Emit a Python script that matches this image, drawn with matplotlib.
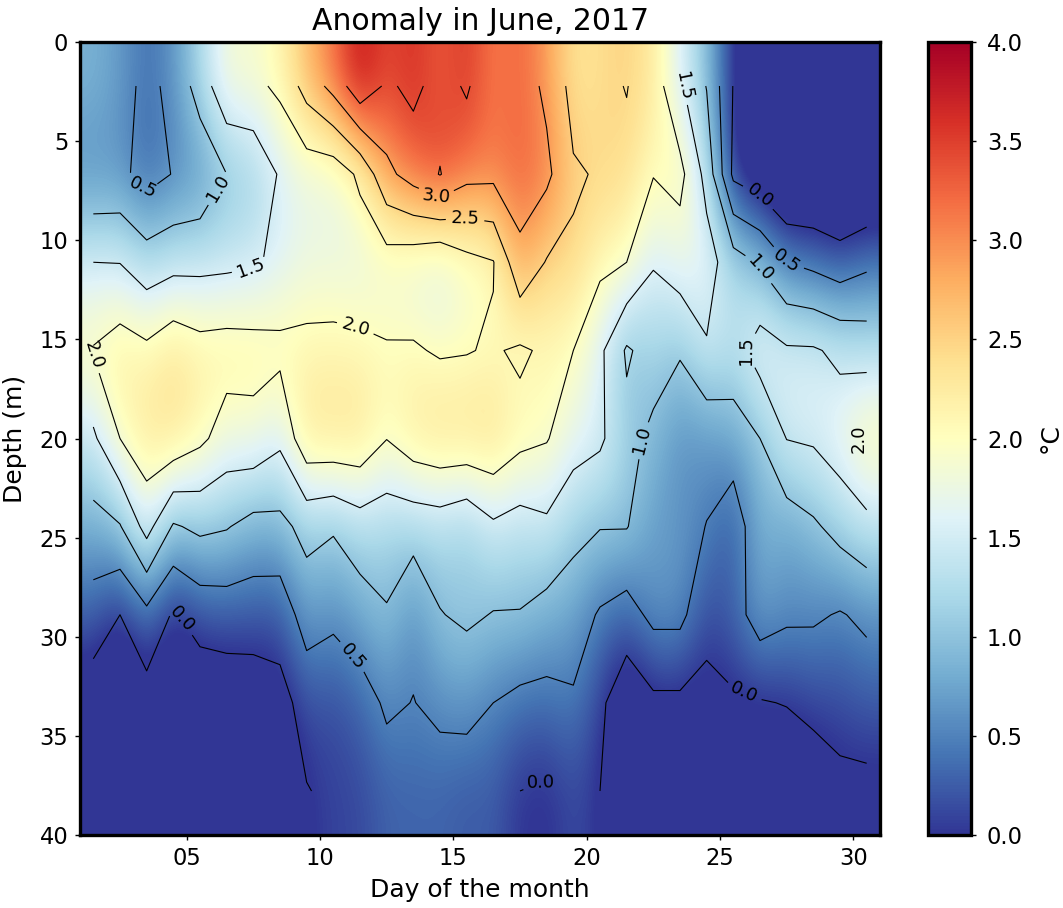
# -*- coding: utf-8 -*-
from matplotlib import pyplot as plt
import numpy as np

days = [d + 0.5 for d in range(1, 31)]
depths = [2.22, 6.67, 11.11, 15.56, 20.0, 24.44, 28.89, 33.33, 37.78]

r0 = [.85, .68, .38, .62, 1.22, 1.87, 1.88, 2.1, 2.69, 3.16, 3.85, 3.42, 3.62, 3.3, 3.56,
      3.1, 3.25, 2.9, 2.34, 2.4, 2.515, 2.26, 1.58, .98, -.02, -.5, -.6, -.7, -.8, -.7]
r1 = [.59, .615, .32, .52, .62, 1.0, 1.13, 1.55, 1.72, 1.71, 2.09, 2.88, 3.2, 3.52, 3.15,
      3.12, 3.25, 3.11, 2.55, 2.46, 2.4, 2.02, 2.14, 1.34, -.1, -.3, -.65, -.6, -.7, -.6]
r2 = [1.5, 1.49, 1.23, 1.35, 1.37, 1.4, 1.45, 1.59, 1.75, 1.75, 1.71, 1.78, 1.7, 1.55, 1.85,
      1.98, 2.87, 2.47, 2.44, 2.11, 2.0, 1.53, 1.75, 1.7, 1.22, .95, .5, .38, .23, .4]
r3 = [2.03, 2.22, 2.1, 2.33, 2.17, 2.2, 2.17, 2.12, 2.11, 2.12, 2.1, 2.03, 2.04, 1.96, 1.98,
      2.04, 1.94, 2.07, 2.0, 1.6, .94, 1.2, 1.05, 1.46, 1.3, 1.72, 1.56, 1.55, 1.4, 1.3]
r4 = [1.42, 2.0, 2.3, 2.35, 2.1, 1.79, 1.84, 1.6, 2.33, 2.35, 2.35, 2.01, 2.28, 2.38, 2.38,
      2.4, 2.13, 2.03, 1.7, 1.58, 1.14, .9, .6, .64, .76, 1.0, 1.51, 1.56, 1.77, 2.1]
r5 = [.82, .97, 1.68, .95, 1.1, 1.03, .84, .87, 1.15, 1.05, 1.27, 1.19, 1.2, 1.25, 1.1,
      1.42, 1.3, 1.41, 1.14, 1.02, 1.02, .7, .65, .49, .22, .85, .75, .93, 1.16, 1.36]
r6 = [.29, 0, .37, -.05, .2, .25, .24, .21, .72, .6, .77, .97, .6, .98, 1.08,
      .98, .98, .83, .74, .45, .3, .62, .62, .14, .3, .72, .58, .56, .47, .59]
r7 = [-.29, -.55, -.21, -.4, -.35, -.32, -.29, -.16, .18, .15, .29, .57, .49, .6, .65,
      .5, .38, .36, .44, .1, -.35, -.1, -.1, -.13, -.06, -.03, .02, .13, .15, .24]
r8 = [-.6, -.8, -.5, -.7, -.6, -.6, -.55, -.45, -.02, .09, .12, .28, .3, .3, .23,
      .25, 0, -.05, .15, 0, -.5, -.4, -.4, -.4, -.4, -.3, -.4, -.29, -.1, -.11]

levels = [0, .5, 1, 1.5, 2, 2.5, 3, 3.5]
# where the contour labels sit, pixels of the reference turned into day / depth below
label_px = [(145, 185), (224, 192), (252, 275), (358, 317), (94, 352), (437, 195), (465, 215),
            (686, 83), (760, 195), (782, 265), (760, 268), (739, 352), (640, 440), (852, 440),
            (188, 615), (360, 650), (745, 690), (541, 782)]

W, H = 1063, 908
anom = np.array([r0, r1, r2, r3, r4, r5, r6, r7, r8])

fig = plt.figure(figsize=(W / 100, H / 100), dpi=100)
ax = fig.add_axes([80 / W, 1 - 835 / H, 800 / W, 793 / H])
im = ax.imshow(anom, cmap='RdYlBu_r', vmin=0, vmax=4, extent=(1, 31, 40, 0),
               aspect='auto', interpolation='bicubic')
cs = ax.contour(days, depths, anom, levels=levels, colors='k', linewidths=0.8)
spots = [(1 + (x - 80) / 26.67, (y - 42) / 19.825) for x, y in label_px]
ax.clabel(cs, fmt='%.1f', fontsize=13, manual=spots)

ax.set_xlim(1, 31)
ax.set_ylim(40, 0)
ax.set_xticks([5, 10, 15, 20, 25, 30])
ax.set_xticklabels(['05', '10', '15', '20', '25', '30'])
ax.set_yticks(range(0, 41, 5))
ax.tick_params(labelsize=16.3, width=1, length=3.5, pad=5)
ax.set_title('Anomaly in June, 2017', fontsize=21.5, pad=8.5)
ax.set_xlabel('Day of the month', fontsize=18, labelpad=6)
ax.set_ylabel('Depth (m)', fontsize=18, labelpad=9)
for s in ax.spines.values():
    s.set_linewidth(2.4)

cax = fig.add_axes([928 / W, 1 - 835 / H, 43 / W, 793 / H])
cb = fig.colorbar(im, cax=cax, ticks=np.arange(0, 4.1, 0.5))
cb.ax.set_yticklabels(['%.1f' % t for t in np.arange(0, 4.1, 0.5)])
cb.ax.tick_params(labelsize=16.3, width=1, length=3.5, pad=8)
cb.set_label('°C', fontsize=18, labelpad=11)
cb.outline.set_linewidth(2.4)

plt.savefig('out.png', dpi=100)
plt.close()
